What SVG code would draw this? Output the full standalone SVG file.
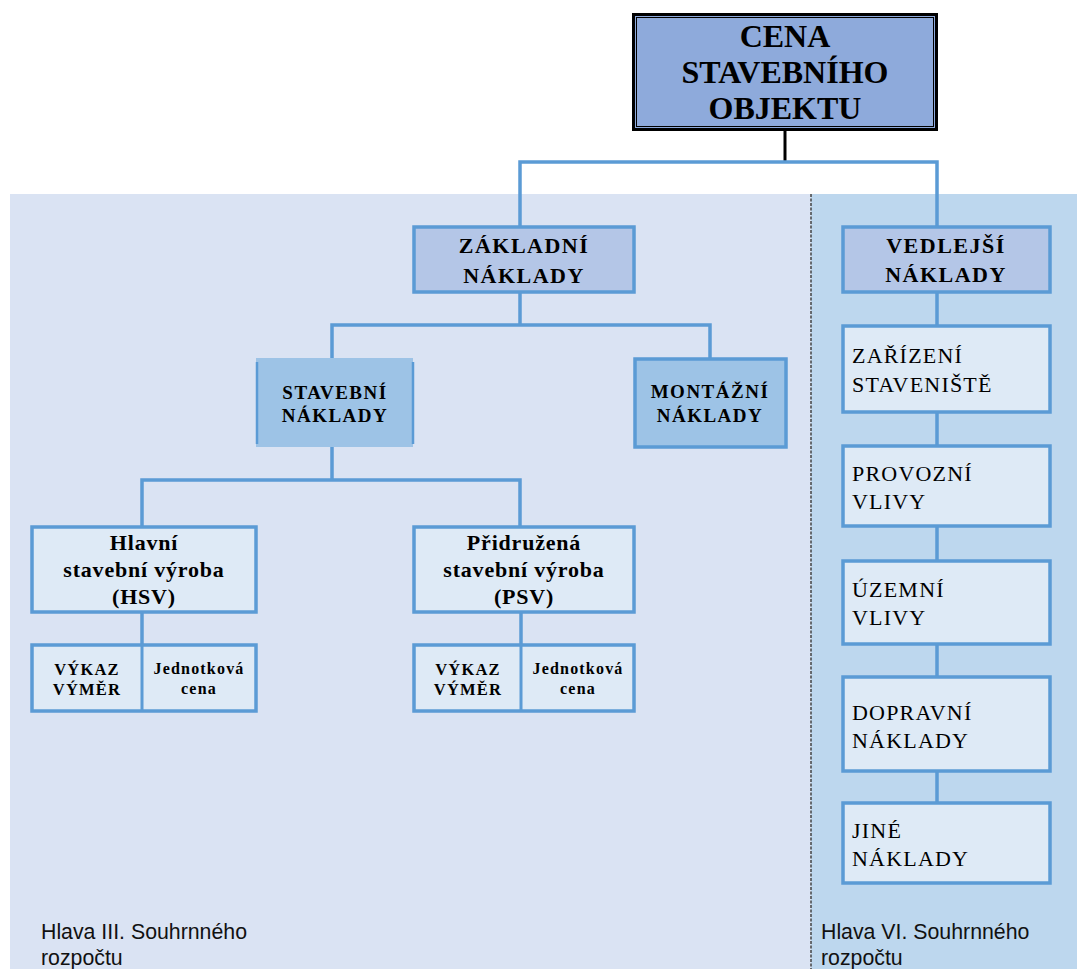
<svg xmlns="http://www.w3.org/2000/svg" width="1077" height="969" viewBox="0 0 1077 969">
<style>
.box{stroke:#5B9BD5;stroke-width:3.5}
.l1{fill:#B4C6E7}
.l2{fill:#9DC3E6}
.l3{fill:#DEEAF6}
.tb{font-family:"Liberation Serif","Times New Roman",serif;font-weight:bold;fill:#000;text-anchor:middle}
.tr{font-family:"Liberation Serif","Times New Roman",serif;fill:#000;font-size:22px;letter-spacing:1.2px}
.foot{font-family:"Liberation Sans",Arial,sans-serif;font-size:21.3px;fill:#111}
.con{stroke:#5B9BD5;stroke-width:3.5;fill:none}
</style>
<rect width="1077" height="969" fill="#fff"/>
<g id="panels">
<rect x="10" y="194" width="801" height="775" fill="#DAE3F3"/>
<rect x="811" y="194" width="266" height="775" fill="#BDD7EE"/>
<line x1="811" y1="194" x2="811" y2="969" stroke="#444" stroke-width="1.5" stroke-dasharray="3,1.5"/>
</g>
<g id="connectors">
<line x1="785" y1="131" x2="785" y2="162" stroke="#000" stroke-width="3"/>
<path class="con" d="M520,227 V162 H937 V227"/>
<path class="con" d="M520,292 V325 M332,358 V325 H710 V359"/>
<path class="con" d="M332,447 V480 M142,527 V480 H520 V527"/>
<line class="con" x1="142" y1="612" x2="142" y2="645"/>
<line class="con" x1="521" y1="612" x2="521" y2="645"/>
<path class="con" d="M937,292 V325 M937,412 V446 M937,527 V561 M937,644 V677 M937,771 V803"/>
</g>
<g id="cena">
<rect x="633.5" y="14.5" width="303" height="115" fill="#8EAADB" stroke="#000" stroke-width="3"/>
<rect x="636.5" y="17.5" width="297" height="109" fill="none" stroke="#000" stroke-width="1"/>
<text class="tb" font-size="32" x="785" y="47">CENA</text>
<text class="tb" font-size="32" x="785" y="83">STAVEBNÍHO</text>
<text class="tb" font-size="32" x="785" y="119">OBJEKTU</text>
</g>
<g id="zakladni">
<rect class="box l1" x="414" y="227" width="220" height="65"/>
<text class="tb" font-size="22" letter-spacing="1.5" x="524" y="253">ZÁKLADNÍ</text>
<text class="tb" font-size="22" letter-spacing="1.5" x="524" y="283">NÁKLADY</text>
</g>
<g id="stavebni">
<rect x="256" y="358" width="157" height="89" fill="#9DC3E6"/>
<line x1="257" y1="362" x2="257" y2="444" stroke="#5B9BD5" stroke-width="2.5"/>
<line x1="413" y1="362" x2="413" y2="444" stroke="#5B9BD5" stroke-width="2.5"/>
<text class="tb" font-size="19" letter-spacing="1.5" x="335" y="399">STAVEBNÍ</text>
<text class="tb" font-size="19" letter-spacing="1.5" x="335" y="422">NÁKLADY</text>
</g>
<g id="montazni">
<rect class="box l2" x="635" y="359" width="151" height="88"/>
<text class="tb" font-size="19" letter-spacing="1.5" x="710" y="398">MONTÁŽNÍ</text>
<text class="tb" font-size="19" letter-spacing="1.5" x="710" y="422">NÁKLADY</text>
</g>
<g id="hsv">
<rect class="box l3" x="32" y="527" width="224" height="85"/>
<text class="tb" font-size="22" letter-spacing="0.8" x="144" y="550">Hlavní</text>
<text class="tb" font-size="22" letter-spacing="0.8" x="144" y="577">stavební výroba</text>
<text class="tb" font-size="22" letter-spacing="0.8" x="144" y="604">(HSV)</text>
</g>
<g id="psv">
<rect class="box l3" x="414" y="527" width="220" height="85"/>
<text class="tb" font-size="22" letter-spacing="0.8" x="524" y="550">Přidružená</text>
<text class="tb" font-size="22" letter-spacing="0.8" x="524" y="577">stavební výroba</text>
<text class="tb" font-size="22" letter-spacing="0.8" x="524" y="604">(PSV)</text>
</g>
<g id="hsv-table">
<rect class="box l3" x="32" y="645" width="224" height="66"/>
<line x1="142" y1="645" x2="142" y2="711" stroke="#5B9BD5" stroke-width="3"/>
<text class="tb" font-size="16.5" letter-spacing="1.2" x="87" y="675">VÝKAZ</text>
<text class="tb" font-size="16.5" letter-spacing="1.2" x="87" y="695">VÝMĚR</text>
<text class="tb" font-size="16" letter-spacing="1.2" x="199" y="674">Jednotková</text>
<text class="tb" font-size="16" letter-spacing="1.2" x="199" y="694">cena</text>
</g>
<g id="psv-table">
<rect class="box l3" x="414" y="645" width="220" height="66"/>
<line x1="521" y1="645" x2="521" y2="711" stroke="#5B9BD5" stroke-width="3"/>
<text class="tb" font-size="16.5" letter-spacing="1.2" x="468" y="675">VÝKAZ</text>
<text class="tb" font-size="16.5" letter-spacing="1.2" x="468" y="695">VÝMĚR</text>
<text class="tb" font-size="16" letter-spacing="1.2" x="578" y="674">Jednotková</text>
<text class="tb" font-size="16" letter-spacing="1.2" x="578" y="694">cena</text>
</g>
<g id="vedlejsi">
<rect class="box l1" x="843" y="227" width="207" height="65"/>
<text class="tb" font-size="22" letter-spacing="1.5" x="946" y="253">VEDLEJŠÍ</text>
<text class="tb" font-size="22" letter-spacing="1.5" x="946" y="282">NÁKLADY</text>
</g>
<g id="zarizeni">
<rect class="box l3" x="843" y="326" width="207" height="86"/>
<text class="tr" x="852" y="363">ZAŘÍZENÍ</text>
<text class="tr" x="852" y="392">STAVENIŠTĚ</text>
</g>
<g id="provozni">
<rect class="box l3" x="843" y="446" width="207" height="80"/>
<text class="tr" x="852" y="481">PROVOZNÍ</text>
<text class="tr" x="852" y="509">VLIVY</text>
</g>
<g id="uzemni">
<rect class="box l3" x="843" y="561" width="207" height="83"/>
<text class="tr" x="852" y="597">ÚZEMNÍ</text>
<text class="tr" x="852" y="625">VLIVY</text>
</g>
<g id="dopravni">
<rect class="box l3" x="843" y="677" width="207" height="94"/>
<text class="tr" x="852" y="720">DOPRAVNÍ</text>
<text class="tr" x="852" y="748">NÁKLADY</text>
</g>
<g id="jine">
<rect class="box l3" x="843" y="803" width="207" height="80"/>
<text class="tr" x="852" y="838">JINÉ</text>
<text class="tr" x="852" y="866">NÁKLADY</text>
</g>
<g id="labels">
<text class="foot" x="41" y="939">Hlava III. Souhrnného</text>
<text class="foot" x="41" y="965">rozpočtu</text>
<text class="foot" x="821" y="939">Hlava VI. Souhrnného</text>
<text class="foot" x="821" y="965">rozpočtu</text>
</g>
</svg>
